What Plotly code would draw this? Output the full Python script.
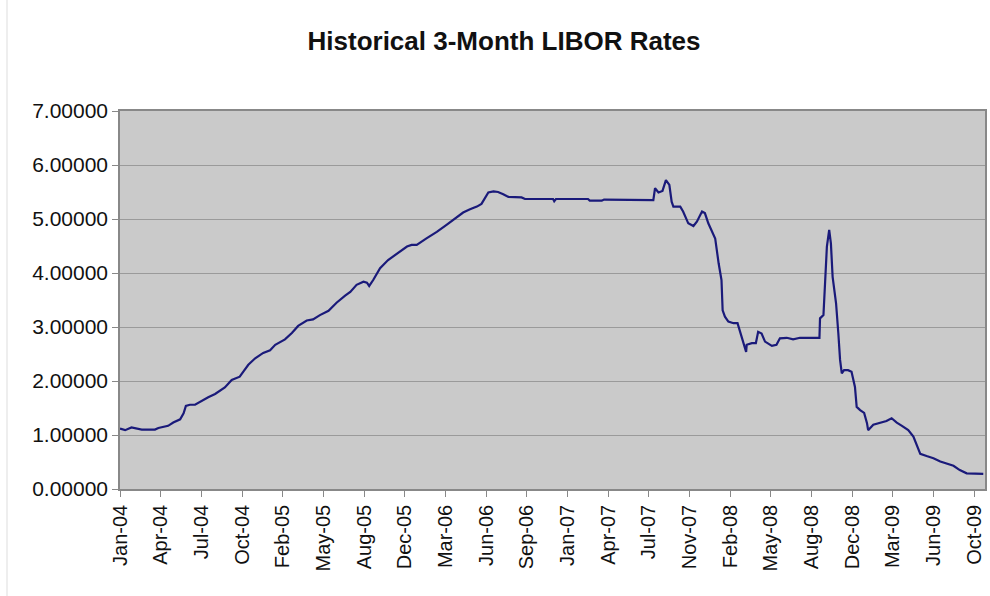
import plotly.graph_objects as go

# business-day index (from 2 Jan 2004) and 3-month LIBOR rate (%)
day_index = [0, 9, 20, 29, 38, 61, 67, 84, 93, 105, 111, 115, 122, 131, 140, 154, 166, 183, 195,
             209, 215, 224, 236, 250, 262, 271, 288, 300, 311, 326, 337, 349, 364, 378, 393, 402,
             413, 425, 431, 435, 442, 454, 468, 483, 501, 509, 518, 535, 553, 570, 588, 599, 611,
             623, 631, 635, 643, 652, 660, 669, 678, 701, 707, 756, 758, 761, 817, 820, 841, 845,
             931, 934, 940, 947, 953, 959, 963, 966, 978, 983, 992, 1001, 1007, 1016, 1021, 1027,
             1033, 1039, 1045, 1050, 1052, 1056, 1062, 1071, 1078, 1082, 1088, 1093, 1094, 1103,
             1110, 1114, 1120, 1126, 1138, 1146, 1152, 1164, 1175, 1187, 1221, 1222, 1228, 1230,
             1232, 1234, 1238, 1241, 1244, 1250, 1254, 1257, 1260, 1264, 1271, 1277, 1283, 1286,
             1292, 1299, 1304, 1306, 1315, 1327, 1338, 1347, 1356, 1365, 1376, 1385, 1394, 1397,
             1408, 1420, 1432, 1443, 1455, 1466, 1478, 1507]
rate = [1.12, 1.09, 1.14, 1.12, 1.10, 1.10, 1.13, 1.17, 1.23, 1.29, 1.40, 1.54, 1.56, 1.56, 1.62,
        1.70, 1.76, 1.88, 2.02, 2.08, 2.17, 2.30, 2.42, 2.52, 2.57, 2.67, 2.77, 2.89, 3.02, 3.12,
        3.14, 3.22, 3.30, 3.45, 3.58, 3.65, 3.78, 3.84, 3.82, 3.76, 3.87, 4.09, 4.24, 4.36, 4.49,
        4.52, 4.52, 4.64, 4.76, 4.89, 5.03, 5.12, 5.18, 5.23, 5.28, 5.35, 5.49, 5.51, 5.50, 5.46,
        5.41, 5.40, 5.37, 5.37, 5.33, 5.37, 5.37, 5.34, 5.34, 5.36, 5.35, 5.57, 5.49, 5.52, 5.72,
        5.63, 5.32, 5.23, 5.23, 5.14, 4.92, 4.87, 4.95, 5.14, 5.11, 4.92, 4.77, 4.64, 4.18, 3.87,
        3.31, 3.19, 3.10, 3.07, 3.07, 2.94, 2.70, 2.54, 2.67, 2.70, 2.70, 2.91, 2.88, 2.73, 2.65,
        2.67, 2.79, 2.80, 2.77, 2.80, 2.80, 3.16, 3.22, 3.75, 4.30, 4.49, 4.80, 4.55, 3.93, 3.44,
        2.88, 2.39, 2.14, 2.20, 2.20, 2.17, 1.89, 1.52, 1.46, 1.41, 1.22, 1.09, 1.19, 1.23, 1.26,
        1.31, 1.23, 1.17, 1.09, 0.97, 0.75, 0.65, 0.61, 0.57, 0.51, 0.47, 0.43, 0.35, 0.29, 0.28]

tick_labels = ["Jan-04", "Apr-04", "Jul-04", "Oct-04", "Feb-05", "May-05", "Aug-05", "Dec-05",
               "Mar-06", "Jun-06", "Sep-06", "Jan-07", "Apr-07", "Jul-07", "Nov-07", "Feb-08",
               "May-08", "Aug-08", "Dec-08", "Mar-09", "Jun-09", "Oct-09"]
tick_step = 71  # category-axis label interval (business days)
tick_positions = [i * tick_step for i in range(len(tick_labels))]

fig = go.Figure()
fig.add_trace(go.Scatter(x=day_index, y=rate, mode="lines",
                         line=dict(color="#1a1a7a", width=2.2), showlegend=False))

fig.update_layout(
    width=990, height=596,
    margin=dict(l=120, r=5, t=111, b=107),
    paper_bgcolor="white",
    plot_bgcolor="#cacaca",
    font=dict(family="Liberation Sans, Arial, sans-serif", color="#111111"),
    title=dict(text="<b>Historical 3-Month LIBOR Rates</b>", x=504/990, xref="container",
               xanchor="center", y=1 - 41/596, yref="container", yanchor="middle",
               font=dict(size=26, color="#111111")),
    xaxis=dict(range=[0, 1510], tickmode="array", tickvals=tick_positions, ticktext=tick_labels,
               tickangle=-90, tickfont=dict(size=20), showgrid=False, zeroline=False,
               ticks="outside", ticklen=6, tickcolor="#888888", automargin=False,
               showline=True, linecolor="#888888", linewidth=1.5, mirror=True),
    yaxis=dict(range=[0, 7], dtick=1, tickformat=".5f", tickfont=dict(size=21),
               showgrid=True, gridcolor="#9a9a9a", gridwidth=1, zeroline=False,
               ticks="outside", ticklen=6, tickcolor="#888888", automargin=False,
               showline=True, linecolor="#888888", linewidth=1.5, mirror=True),
)
fig.add_shape(type="line", xref="paper", yref="paper", x0=-113/865, x1=-113/865, y0=-0.3, y1=1.3,
              line=dict(color="#dddddd", width=1))

fig.write_html("out.html", config={"displayModeBar": False},
               post_script="document.body.style.margin='0';document.body.style.overflow='hidden';")
